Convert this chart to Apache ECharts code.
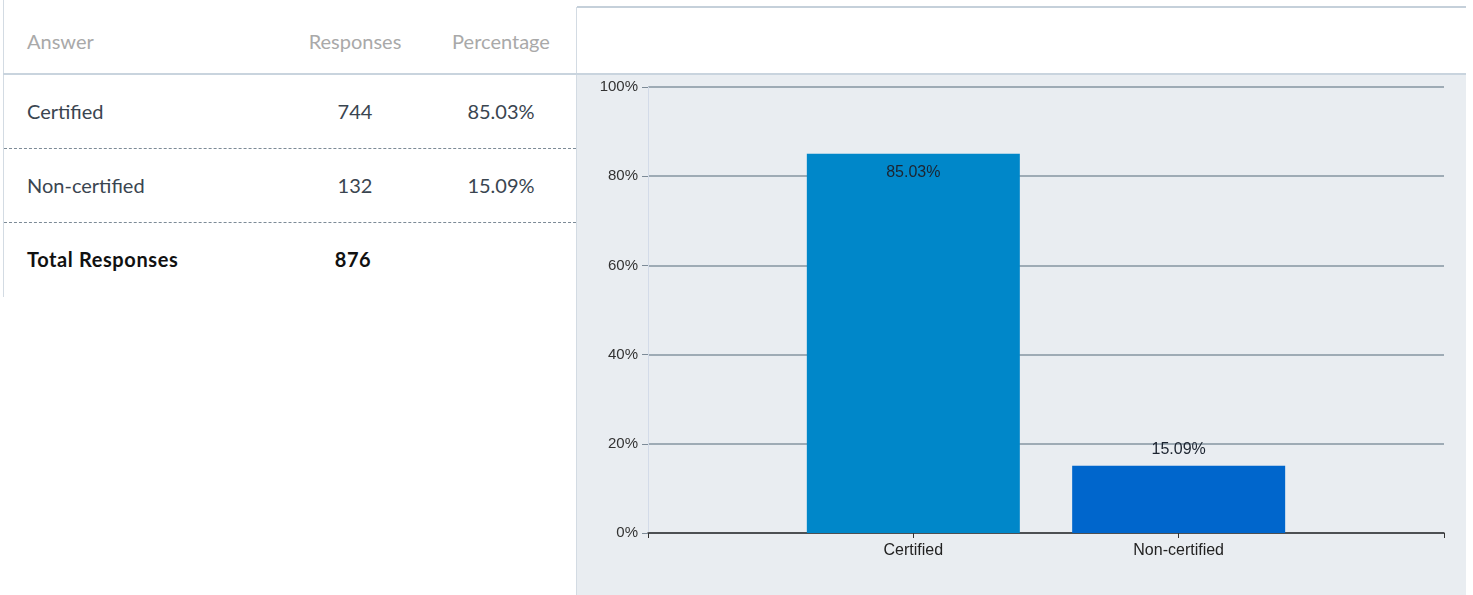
<!DOCTYPE html>
<html>
<head>
<meta charset="utf-8">
<script src="https://cdn.jsdelivr.net/npm/echarts@6/dist/echarts.min.js"></script>
<style>
html,body{margin:0;padding:0;background:#fff;width:1473px;height:595px;overflow:hidden;font-family:Lato,"Open Sans",sans-serif;}
#leftBorder{position:absolute;left:3px;top:0;width:1px;height:297px;background:#d3dbe3;}
#divider{position:absolute;left:576px;top:7px;width:1px;height:588px;background:#d3dbe3;}
#topLine{position:absolute;left:577px;top:6px;width:889px;height:2px;background:#c5d0da;}
#headLine{position:absolute;left:3px;top:73px;width:1463px;height:2px;background:#c9d4de;}
.dash{position:absolute;left:4px;width:572px;height:0;border-top:1px dashed #7d8b97;}
.t{position:absolute;font-size:20px;line-height:20px;white-space:nowrap;color:#3a4550;}
.h{color:#a9a9a9;}
.c{transform:translateX(-50%);}
.b{font-weight:bold;color:#111;letter-spacing:0.6px;}
#chart{position:absolute;left:577px;top:75px;width:889px;height:520px;}
</style>
</head>
<body>
<div id="leftBorder"></div>
<div id="divider"></div>
<div id="topLine"></div>
<div id="headLine"></div>
<div class="dash" style="top:148px"></div>
<div class="dash" style="top:222px"></div>
<div id="table"></div>
<div id="chart"></div>
<script>
// ---- data ----
var headers = ['Answer', 'Responses', 'Percentage'];
var categories = ['Certified', 'Non-certified'];
var responses = [744, 132];
var percentages = [85.03, 15.09];
var totalLabel = 'Total Responses';
var totalResponses = 876;
var yTicks = [0, 20, 40, 60, 80, 100];
var barColors = ['#0087c9', '#0066cc'];

// ---- table ----
var colX = [27, 355, 501];
var table = document.getElementById('table');
function addText(txt, x, y, cls) {
  var d = document.createElement('div');
  d.className = 't ' + cls;
  d.textContent = txt;
  d.style.left = x + 'px';
  d.style.top = (y - 10) + 'px';
  table.appendChild(d);
}
addText(headers[0], colX[0], 41, 'h');
addText(headers[1], colX[1], 41, 'h c');
addText(headers[2], colX[2], 41, 'h c');
var rowY = [111, 185];
categories.forEach(function (c, i) {
  addText(c, colX[0], rowY[i], '');
  addText(String(responses[i]), colX[1], rowY[i], 'c');
  addText(percentages[i].toFixed(2) + '%', colX[2], rowY[i], 'c');
});
addText(totalLabel, colX[0], 259, 'b');
addText(String(totalResponses), colX[1] - 2, 259, 'b c');

// ---- chart ----
var axisCats = [''].concat(categories).concat(['']);
var barData = [null].concat(percentages.map(function (v, i) {
  return {
    value: v,
    itemStyle: { color: barColors[i] },
    label: i === 0 ? { position: 'insideTop', distance: 11 } : { position: 'top', distance: 8 }
  };
})).concat([null]);

var chart = echarts.init(document.getElementById('chart'), null, { renderer: 'canvas' });
chart.setOption({
  backgroundColor: '#e9edf1',
  animation: false,
  grid: { left: 71, right: 22, top: 12, bottom: 62 },
  xAxis: {
    type: 'category',
    data: axisCats,
    boundaryGap: false,
    axisLine: { lineStyle: { color: '#333', width: 1.5 } },
    axisTick: { show: true, length: 5, inside: false, lineStyle: { color: '#333' } },
    axisLabel: { color: '#222', fontSize: 16, fontFamily: 'Liberation Sans, Arial', margin: 10 },
    splitLine: { show: false }
  },
  yAxis: {
    type: 'value',
    min: yTicks[0],
    max: yTicks[yTicks.length - 1],
    interval: 20,
    axisLine: { show: true, lineStyle: { color: '#d3dbe8', width: 1 } },
    axisTick: { show: true, length: 6, lineStyle: { color: '#7d8b97' } },
    axisLabel: { color: '#333', fontSize: 15, fontFamily: 'Liberation Sans, Arial', margin: 10, formatter: '{value}%' },
    splitLine: { show: true, lineStyle: { color: '#8595a1', width: 1.5 } }
  },
  series: [{
    type: 'bar',
    data: barData,
    barWidth: 213,
    label: {
      show: true,
      color: '#1c2430',
      fontSize: 16,
      fontFamily: 'Liberation Sans, Arial',
      formatter: function (p) { return p.value.toFixed(2) + '%'; }
    }
  }]
});
</script>
</body>
</html>
